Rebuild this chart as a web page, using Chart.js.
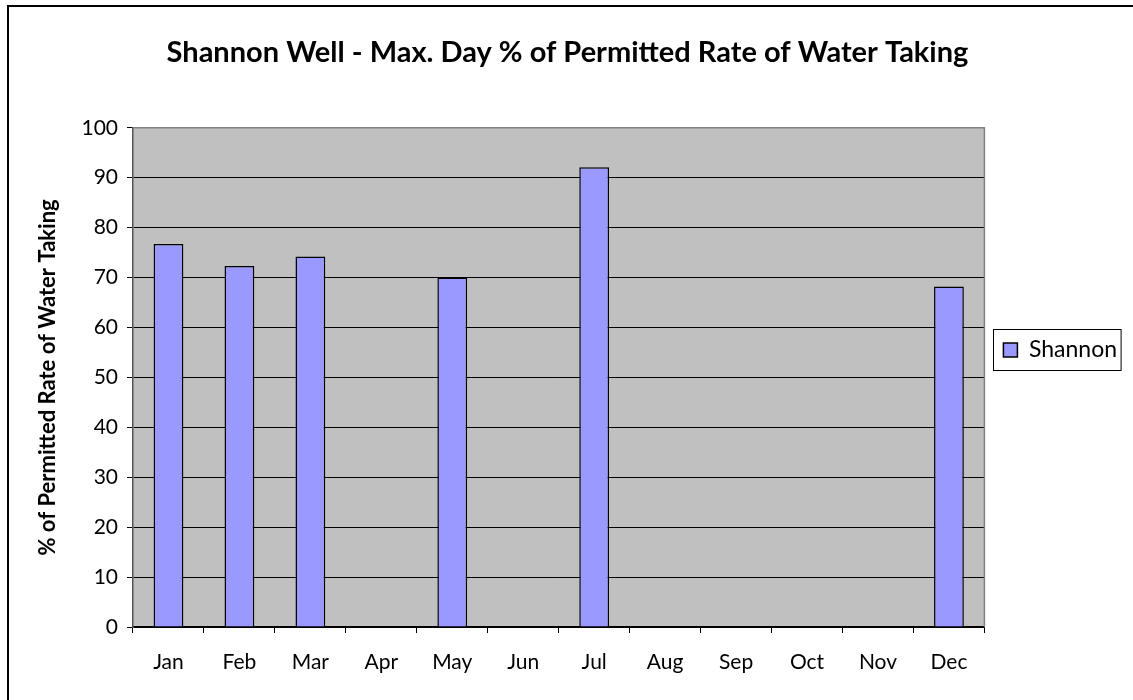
<!DOCTYPE html>
<html>
<head>
<meta charset="utf-8">
<title>Shannon Well</title>
<script src="https://cdn.jsdelivr.net/npm/chart.js@4"></script>
<style>
  html, body { margin: 0; padding: 0; background: #fff; }
  #wrap { width: 1133px; height: 700px; }
</style>
</head>
<body>
<div id="wrap"><canvas id="chart" width="1133" height="700"></canvas></div>
<script>
// data
const months = ["Jan", "Feb", "Mar", "Apr", "May", "Jun", "Jul", "Aug", "Sep", "Oct", "Nov", "Dec"];
const shannonValues = [76.7, 72.3, 74.2, null, 70.0, null, 92.1, null, null, null, null, 68.2];
const yTicks = [0, 10, 20, 30, 40, 50, 60, 70, 80, 90, 100];

const FONT = "Lato, 'Open Sans', sans-serif";

// grey plot area + outline, page frame and legend box
const decor = {
  id: "decor",
  beforeDraw(chart) {
    const { ctx, chartArea: a } = chart;
    ctx.save();
    ctx.fillStyle = "#c0c0c0";
    ctx.fillRect(a.left, a.top, a.right - a.left, a.bottom - a.top);
    ctx.restore();
  },
  afterDraw(chart) {
    const { ctx, chartArea: a } = chart;
    ctx.save();
    ctx.strokeStyle = "#808080";
    ctx.lineWidth = 1.5;
    ctx.beginPath();
    ctx.moveTo(a.left, a.top);
    ctx.lineTo(a.right, a.top);
    ctx.lineTo(a.right, a.bottom);
    ctx.stroke();

    // outer frame (only top and left are visible in the reference)
    ctx.strokeStyle = "#000";
    ctx.lineWidth = 2;
    ctx.beginPath();
    ctx.moveTo(8, 700);
    ctx.lineTo(8, 6);
    ctx.lineTo(1133, 6);
    ctx.stroke();

    // legend frame
    const hb = chart.legend.legendHitBoxes[0];
    if (hb) {
      ctx.strokeStyle = "#000";
      ctx.lineWidth = 1;
      ctx.strokeRect(Math.round(hb.left) - 9.5, Math.round(hb.top) - 9.5, hb.width + 14, hb.height + 18);
    }
    ctx.restore();
  },
};

new Chart(document.getElementById("chart"), {
  type: "bar",
  data: {
    labels: months,
    datasets: [
      {
        label: "Shannon",
        data: shannonValues,
        backgroundColor: "#9999ff",
        borderColor: "#000",
        borderWidth: 1.5,
        barPercentage: 0.42,
        categoryPercentage: 1,
      },
    ],
  },
  options: {
    responsive: false,
    animation: false,
    devicePixelRatio: 1,
    layout: { padding: { left: 8, right: 6, top: 0, bottom: 0 } },
    plugins: {
      title: {
        display: true,
        text: "Shannon Well - Max. Day % of Permitted Rate of Water Taking",
        color: "#000",
        font: { family: FONT, size: 29, weight: "bold" },
        padding: { top: 35, bottom: 58 },
      },
      legend: {
        position: "right",
        labels: {
          color: "#000",
          font: { family: FONT, size: 23 },
          boxWidth: 14,
          boxHeight: 14,
          padding: 19,
        },
      },
      tooltip: { enabled: false },
    },
    scales: {
      x: {
        offset: true,
        grid: {
          offset: true,
          drawOnChartArea: false,
          drawTicks: true,
          tickLength: 6,
          color: "#000",
        },
        border: { color: "#000", width: 1.5 },
        ticks: {
          color: "#000",
          font: { family: FONT, size: 21 },
          padding: 17,
          maxRotation: 0,
        },
        afterFit(scale) {
          scale.height = 73;
        },
      },
      y: {
        min: 0,
        max: 100,
        afterBuildTicks(scale) {
          scale.ticks = yTicks.map((v) => ({ value: v }));
        },
        grid: {
          color: "#000",
          lineWidth: 1,
          tickLength: 6,
        },
        border: { color: "#555", width: 1.5 },
        ticks: {
          color: "#000",
          font: { family: FONT, size: 21 },
          padding: 9,
        },
        title: {
          display: true,
          text: "% of Permitted Rate of Water Taking",
          color: "#000",
          font: { family: FONT, size: 22, weight: "bold" },
          padding: { top: 27, bottom: 0 },
        },
        afterFit(scale) {
          scale.width = 125;
        },
      },
    },
  },
  plugins: [decor],
});
</script>
</body>
</html>
